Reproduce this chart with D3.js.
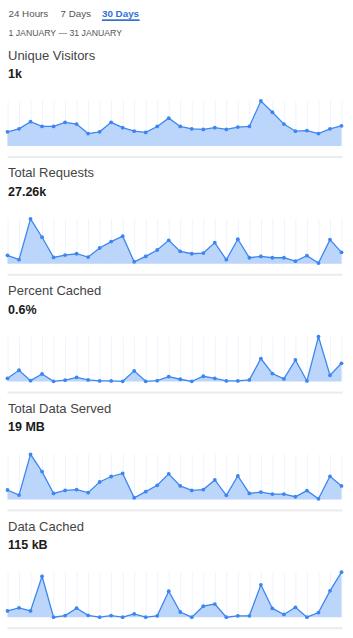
<!DOCTYPE html>
<html lang="en">
<head>
  <meta charset="UTF-8">
  <title>Analytics sparklines</title>
  <style>
    body {
      margin: 0;
      background: #fff;
      font-family: "Liberation Sans", Arial, sans-serif;
    }
    .tab { font-size: 9.8px; fill: #555; }
    .tab.active { fill: #2f6fd6; font-weight: bold; }
    .range { font-size: 8.7px; fill: #555; }
    .title { font-size: 13px; fill: #444; }
    .value { font-size: 12.5px; fill: #1a1a1a; font-weight: bold; }
  </style>
  <script src="https://d3js.org/d3.v7.min.js"></script>
</head>
<body>
<svg id="chart"></svg>
<script>
  // data (one value per day, 1..30 January)
  const tabs = ["24 Hours", "7 Days", "30 Days"];
  const rangeLabel = "1 JANUARY \u2014 31 JANUARY";
  const titles = ["Unique Visitors", "Total Requests", "Percent Cached", "Total Data Served", "Data Cached"];
  const totals = ["1k", "27.26k", "0.6%", "19 MB", "115 kB"];

  const uniqueVisitors = [24, 29, 41, 33, 33, 40, 37, 21, 24, 40, 31, 25, 23, 33, 47,
    33, 29, 28, 31, 28, 32, 33, 76, 57, 37, 25, 26, 21, 29, 34];
  const totalRequests = [600, 290, 3200, 1890, 455, 620, 715, 475, 1125, 1580, 1960, 145, 525, 980, 1670,
    885, 715, 765, 1505, 290, 1745, 430, 525, 430, 430, 190, 575, 50, 1720, 815];
  const percentCached = [0.31, 1.06, 0.09, 0.71, 0.03, 0.13, 0.40, 0.16, 0.06, 0.06, 0.03, 1.0, 0.03, 0.09, 0.47,
    0.22, 0.03, 0.50, 0.31, 0.06, 0.06, 0.16, 2.15, 0.75, 0.25, 2.02, 0.06, 4.2, 0.59, 1.71];
  const dataServedMB = [0.46, 0.21, 2.2, 1.36, 0.29, 0.44, 0.48, 0.33, 0.85, 1.12, 1.27, 0.08, 0.38, 0.69, 1.25,
    0.66, 0.44, 0.48, 0.95, 0.20, 1.15, 0.29, 0.36, 0.26, 0.26, 0.13, 0.43, 0.03, 1.13, 0.66];
  const dataCachedKB = [2.3, 3.4, 2.3, 14.9, 0, 0.6, 3.3, 0.7, 0, 0.6, 0, 1.2, 0, 0.5, 9.5,
    1.9, 0, 4.0, 4.8, 0, 0.5, 0.5, 11.8, 3.2, 1.0, 3.6, 0, 1.7, 9.6, 16.4];

  const series = [uniqueVisitors, totalRequests, percentCached, dataServedMB, dataCachedKB];

  const W = 353, H = 638;
  const svg = d3.select("#chart").attr("width", W).attr("height", H);

  // tab bar
  const tabX = [8.5, 60.5, 102];
  svg.selectAll(".tab").data(tabs).join("text")
    .attr("class", (d, i) => i === 2 ? "tab active" : "tab")
    .attr("x", (d, i) => tabX[i])
    .attr("y", 16.5)
    .text(d => d);
  const active = svg.select(".tab.active").node().getBBox();
  svg.append("rect")
    .attr("x", active.x).attr("y", 19.3)
    .attr("width", active.width).attr("height", 1.7)
    .attr("fill", "#2f6fd6");

  svg.append("text").attr("class", "range")
    .attr("x", 8.5).attr("y", 36)
    .text(rangeLabel);

  const days = d3.range(1, 31);
  const x = d3.scaleLinear().domain([1, 30]).range([7.5, 341.5]);
  const pitch = 117.8;

  series.forEach((vals, i) => {
    const y0 = 50 + i * pitch;
    const g = svg.append("g");

    g.append("text").attr("class", "title")
      .attr("x", 8).attr("y", y0 + 9.5).text(titles[i]);
    g.append("text").attr("class", "value")
      .attr("x", 8).attr("y", y0 + 28).text(totals[i]);

    const y = d3.scaleLinear()
      .domain([0, d3.max(vals)])
      .range([y0 + 96, y0 + 51]);

    // faint vertical gridlines, one per day
    g.append("g")
      .attr("transform", `translate(0,${y0 + 96})`)
      .call(d3.axisBottom(x).tickValues(days).tickSize(-45).tickFormat(""))
      .call(a => a.select(".domain").remove())
      .call(a => a.selectAll(".tick line").attr("stroke", "#eef4fd").attr("stroke-width", 1));

    const pts = days.map((d, k) => [d, vals[k]]);

    g.append("path")
      .datum(pts)
      .attr("fill", "#bcd6fb")
      .attr("d", d3.area().x(d => x(d[0])).y0(y(0)).y1(d => y(d[1])));

    g.append("path")
      .datum(pts)
      .attr("fill", "none")
      .attr("stroke", "#3d86f0")
      .attr("stroke-width", 1.3)
      .attr("d", d3.line().x(d => x(d[0])).y(d => y(d[1])));

    g.selectAll("circle").data(pts).join("circle")
      .attr("cx", d => x(d[0]))
      .attr("cy", d => y(d[1]))
      .attr("r", 1.9)
      .attr("fill", "#3d86f0");

    // separator
    g.append("rect")
      .attr("x", 7.5).attr("y", y0 + 106)
      .attr("width", 335).attr("height", 2)
      .attr("fill", "#ececec");
  });
</script>
</body>
</html>
